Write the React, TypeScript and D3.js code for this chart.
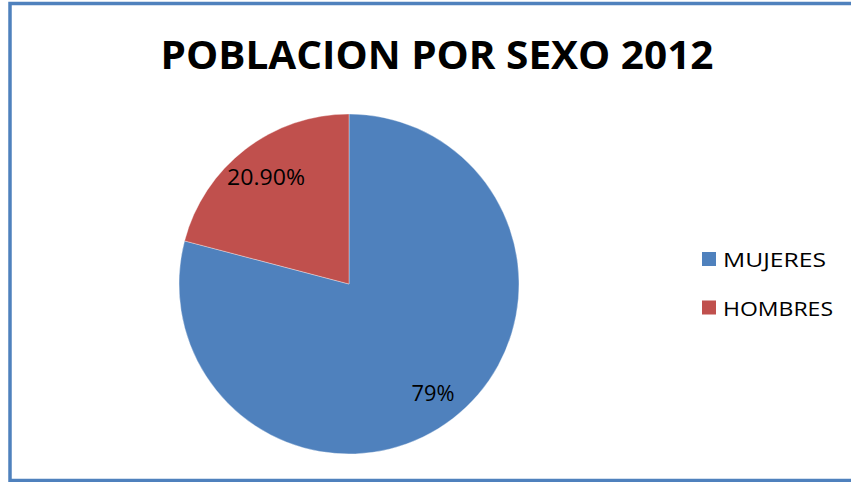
import React from "react";
import * as d3 from "d3";

const categories = ["MUJERES", "HOMBRES"];
const values = [79, 20.9];
const labels = ["79%", "20.90%"];
const colors = ["#4F81BD", "#C0504D"];
const title = "POBLACION POR SEXO 2012";

export default function App() {
  const W = 851, H = 482;
  const cx = 349, cy = 284, r = 170;
  const pie = d3.pie<number>().sort(null).value((d) => d)(values);
  const arc = d3.arc<d3.PieArcDatum<number>>().innerRadius(0).outerRadius(r);
  const font = "'Open Sans', 'Noto Sans', sans-serif";
  const labelPos = [
    [433, 401],
    [266, 185],
  ];
  const labelLen = [43, 78];
  const legendLen = [103, 110];
  return (
    <svg width={W} height={H} style={{ position: "absolute", left: 0, top: 0 }} fontFamily={font}>
      <rect x={0} y={0} width={W} height={H} fill="#fff" />
      <rect x={10} y={3.5} width={W + 20} height={477} fill="none" stroke="#4F81BD" strokeWidth={3.5} />
      <text x={437} y={69} textAnchor="middle" fontSize={40} fontWeight="bold" fill="#000" textLength={553} lengthAdjust="spacingAndGlyphs">
        {title}
      </text>
      <g transform={`translate(${cx},${cy})`}>
        {pie.map((p, i) => (
          <path key={i} d={arc(p) || ""} fill={colors[i]} stroke="#ffffff" strokeOpacity={0.5} strokeWidth={0.7} />
        ))}
      </g>
      {pie.map((p, i) => (
        <text key={i} x={labelPos[i][0]} y={labelPos[i][1]} textAnchor="middle" fontSize={21} fill="#000" textLength={labelLen[i]} lengthAdjust="spacingAndGlyphs">
          {labels[i]}
        </text>
      ))}
      {categories.map((c, i) => (
        <g key={c} transform={`translate(702,${252 + i * 48.5})`}>
          <rect x={0} y={0} width={14} height={14} fill={colors[i]} />
          <text x={21} y={15} fontSize={20} fill="#000" textLength={legendLen[i]} lengthAdjust="spacingAndGlyphs">
            {c}
          </text>
        </g>
      ))}
    </svg>
  );
}
